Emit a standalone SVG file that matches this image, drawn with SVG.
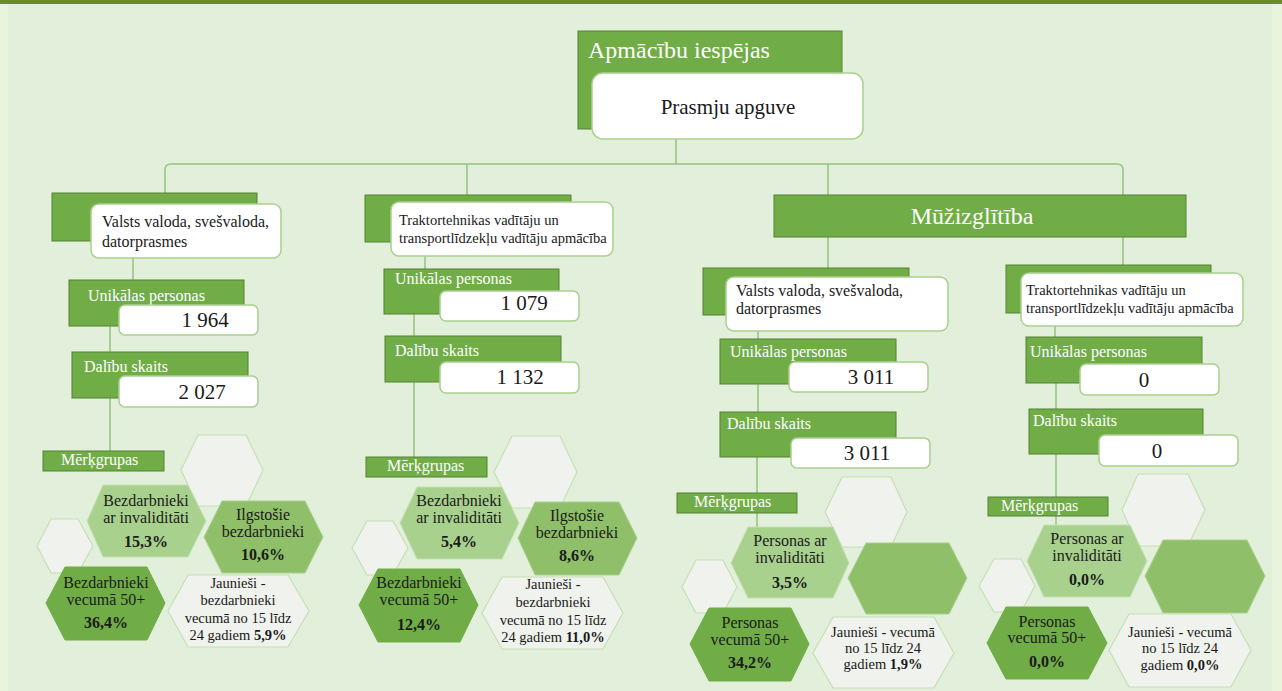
<svg xmlns="http://www.w3.org/2000/svg" width="1282" height="691" viewBox="0 0 1282 691">
<style>
text{font-family:"Liberation Serif","Times New Roman",serif}
.g{fill:#70ad47;stroke:#548235;stroke-width:1}
.w{fill:#ffffff;stroke:#a9d18e;stroke-width:1.5}
.con{fill:none;stroke:#93c47d;stroke-width:1.5}
.wt{fill:#ffffff;font-size:16px}
.bt{fill:#1a1a1a;font-size:16px}
.num{fill:#1a1a1a;font-size:21px;text-anchor:middle}
.hp{fill:#eff2ed;stroke:#c5e0b4;stroke-width:1.2}
.hl{fill:#a9d18e;stroke:#c5e0b4;stroke-width:1}
.hm{fill:#8fbf68;stroke:#a9d18e;stroke-width:1}
.hd{fill:#70ad47;stroke:#70ad47;stroke-width:1}
.ht{fill:#1a1a1a;font-size:16px;text-anchor:middle}
.hs{fill:#1a1a1a;font-size:14.5px;text-anchor:middle}
.b{font-weight:bold}
</style>
<rect x="0" y="0" width="1282" height="691" fill="#eaf4dc"/>
<rect x="8" y="0" width="1264" height="691" fill="#e2efda"/>
<rect x="0" y="0" width="1282" height="4" fill="#6b8a28"/>

<g id="connectors">
<path class="con" d="M676,139 V164"/>
<path class="con" d="M165,193 V170 Q165,164 171,164 H1117 Q1123,164 1123,170 V195"/>
<path class="con" d="M467,164 V195"/>
<path class="con" d="M828,164 V195"/>
<path class="con" d="M828,237 V268"/>
<path class="con" d="M1123,237 V265"/>
<path class="con" d="M133,258 V280"/>
<path class="con" d="M110,326 V352"/>
<path class="con" d="M110,398 V451"/>
<path class="con" d="M425,256 V269"/>
<path class="con" d="M414,314 V336"/>
<path class="con" d="M414,382 V457"/>
<path class="con" d="M758,331 V339"/>
<path class="con" d="M758,384 V412"/>
<path class="con" d="M757,457 V528"/>
<path class="con" d="M1055,326 V337"/>
<path class="con" d="M1056,383 V409"/>
<path class="con" d="M1056,454 V526"/>
</g>

<g id="root">
<rect class="g" x="578" y="31" width="264" height="98"/>
<text class="wt" x="588" y="58" style="font-size:24px">Apmācību iespējas</text>
<rect class="w" x="592" y="73" width="271" height="66" rx="11"/>
<text x="728" y="114" style="font-size:21px;fill:#1a1a1a" text-anchor="middle">Prasmju apguve</text>
</g>

<g id="muzizglitiba">
<rect class="g" x="774" y="195" width="412" height="42"/>
<text class="wt" x="972" y="224" style="font-size:24px" text-anchor="middle">Mūžizglītība</text>
</g>

<!-- Column 1 -->
<g id="c1-head">
<rect class="g" x="52" y="193" width="205" height="48"/>
<rect class="w" x="91" y="204" width="190" height="54" rx="8"/>
<text class="bt" x="102" y="227">Valsts valoda, svešvaloda,</text>
<text class="bt" x="102" y="247">datorprasmes</text>
</g>
<g id="c1-unik">
<rect class="g" x="69" y="280" width="175" height="46"/>
<text class="wt" x="88" y="301">Unikālas personas</text>
<rect class="w" x="119" y="305" width="139" height="30" rx="6"/>
<text class="num" x="205" y="327">1 964</text>
</g>
<g id="c1-dal">
<rect class="g" x="72" y="352" width="176" height="46"/>
<text class="wt" x="84" y="372">Dalību skaits</text>
<rect class="w" x="119" y="376" width="139" height="31" rx="6"/>
<text class="num" x="202" y="399">2 027</text>
</g>
<g id="c1-merk">
<rect class="g" x="43" y="451" width="121" height="20"/>
<text class="wt" x="61" y="465">Mērķgrupas</text>
</g>
<g id="c1-hex-empty1"><polygon class="hp" points="181,470 198,435 246,435 263,470 246,506 198,506"/></g>
<g id="c1-hex-empty2"><polygon class="hp" points="37,546 51,519 78,519 93,546 78,573 51,573"/></g>
<g id="c1-hex-inv">
<polygon class="hl" points="87,521 103,485 188,485 206,521 188,557 103,557"/>
<text class="ht" x="146" y="506">Bezdarbnieki</text>
<text class="ht" x="146" y="523">ar invaliditāti</text>
<text class="ht b" x="146" y="547">15,3%</text>
</g>
<g id="c1-hex-ilg">
<polygon class="hm" points="204,537 222,501 305,501 323,537 305,573 222,573"/>
<text class="ht" x="263" y="520">Ilgstošie</text>
<text class="ht" x="263" y="537">bezdarbnieki</text>
<text class="ht b" x="263" y="560">10,6%</text>
</g>
<g id="c1-hex-50">
<polygon class="hd" points="46,603 65,567 147,567 165,603 147,640 65,640"/>
<text class="ht" x="106" y="588">Bezdarbnieki</text>
<text class="ht" x="106" y="605">vecumā 50+</text>
<text class="ht b" x="106" y="628">36,4%</text>
</g>
<g id="c1-hex-jaun">
<polygon class="hp" points="168,611 188,575 288,575 309,611 288,647 188,647"/>
<text class="hs" x="238" y="588">Jaunieši -</text>
<text class="hs" x="238" y="605">bezdarbnieki</text>
<text class="hs" x="238" y="623">vecumā no 15 līdz</text>
<text class="hs" x="238" y="640">24 gadiem <tspan class="b">5,9%</tspan></text>
</g>

<!-- Column 2 -->
<g id="c2-head">
<rect class="g" x="365" y="195" width="206" height="47"/>
<rect class="w" x="391" y="202" width="222" height="54" rx="8"/>
<text class="bt" x="399" y="225" style="font-size:14.5px">Traktortehnikas vadītāju un</text>
<text class="bt" x="399" y="243" style="font-size:14.5px">transportlīdzekļu vadītāju apmācība</text>
</g>
<g id="c2-unik">
<rect class="g" x="384" y="269" width="175" height="45"/>
<text class="wt" x="395" y="284">Unikālas personas</text>
<rect class="w" x="440" y="291" width="139" height="30" rx="6"/>
<text class="num" x="524" y="310">1 079</text>
</g>
<g id="c2-dal">
<rect class="g" x="385" y="336" width="176" height="46"/>
<text class="wt" x="395" y="356">Dalību skaits</text>
<rect class="w" x="440" y="362" width="139" height="31" rx="6"/>
<text class="num" x="520" y="384">1 132</text>
</g>
<g id="c2-merk">
<rect class="g" x="366" y="457" width="121" height="20"/>
<text class="wt" x="387" y="471">Mērķgrupas</text>
</g>
<g id="c2-hex-empty1"><polygon class="hp" points="494,472 512,436 560,436 577,472 560,508 512,508"/></g>
<g id="c2-hex-empty2"><polygon class="hp" points="352,548 367,521 393,521 408,548 393,575 367,575"/></g>
<g id="c2-hex-inv">
<polygon class="hl" points="400,523 417,487 502,487 519,523 502,559 417,559"/>
<text class="ht" x="459" y="506">Bezdarbnieki</text>
<text class="ht" x="459" y="523">ar invaliditāti</text>
<text class="ht b" x="459" y="547">5,4%</text>
</g>
<g id="c2-hex-ilg">
<polygon class="hm" points="518,538 535,502 619,502 637,538 619,575 535,575"/>
<text class="ht" x="577" y="521">Ilgstošie</text>
<text class="ht" x="577" y="538">bezdarbnieki</text>
<text class="ht b" x="577" y="561">8,6%</text>
</g>
<g id="c2-hex-50">
<polygon class="hd" points="359,605 378,569 460,569 478,605 460,642 378,642"/>
<text class="ht" x="419" y="588">Bezdarbnieki</text>
<text class="ht" x="419" y="605">vecumā 50+</text>
<text class="ht b" x="419" y="630">12,4%</text>
</g>
<g id="c2-hex-jaun">
<polygon class="hp" points="482,613 502,577 603,577 623,613 603,649 502,649"/>
<text class="hs" x="553" y="589">Jaunieši -</text>
<text class="hs" x="553" y="607">bezdarbnieki</text>
<text class="hs" x="553" y="625">vecumā no 15 līdz</text>
<text class="hs" x="553" y="642">24 gadiem <tspan class="b">11,0%</tspan></text>
</g>

<!-- Column 3 -->
<g id="c3-head">
<rect class="g" x="703" y="268" width="206" height="47"/>
<rect class="w" x="726" y="277" width="222" height="54" rx="8"/>
<text class="bt" x="736" y="296">Valsts valoda, svešvaloda,</text>
<text class="bt" x="736" y="314">datorprasmes</text>
</g>
<g id="c3-unik">
<rect class="g" x="720" y="339" width="176" height="45"/>
<text class="wt" x="730" y="357">Unikālas personas</text>
<rect class="w" x="789" y="362" width="139" height="30" rx="6"/>
<text class="num" x="871" y="384">3 011</text>
</g>
<g id="c3-dal">
<rect class="g" x="720" y="412" width="176" height="45"/>
<text class="wt" x="727" y="429">Dalību skaits</text>
<rect class="w" x="791" y="438" width="139" height="30" rx="6"/>
<text class="num" x="867" y="460">3 011</text>
</g>
<g id="c3-merk">
<rect class="g" x="677" y="493" width="120" height="20"/>
<text class="wt" x="694" y="507">Mērķgrupas</text>
</g>
<g id="c3-hex-empty1"><polygon class="hp" points="825,512 842,477 891,477 907,512 891,547 842,547"/></g>
<g id="c3-hex-empty2"><polygon class="hp" points="682,587 696,560 723,560 737,587 723,613 696,613"/></g>
<g id="c3-hex-inv">
<polygon class="hl" points="731,563 748,527 833,527 849,563 833,598 748,598"/>
<text class="ht" x="790" y="546">Personas ar</text>
<text class="ht" x="790" y="563">invaliditāti</text>
<text class="ht b" x="790" y="588">3,5%</text>
</g>
<g id="c3-hex-mid"><polygon class="hm" points="848,578 866,543 949,543 967,578 949,614 866,614"/></g>
<g id="c3-hex-50">
<polygon class="hd" points="690,644 709,608 791,608 809,644 791,681 709,681"/>
<text class="ht" x="750" y="628">Personas</text>
<text class="ht" x="750" y="645">vecumā 50+</text>
<text class="ht b" x="750" y="668">34,2%</text>
</g>
<g id="c3-hex-jaun">
<polygon class="hp" points="813,653 833,617 934,617 954,653 934,688 833,688"/>
<text class="hs" x="883" y="637">Jaunieši - vecumā</text>
<text class="hs" x="883" y="653">no 15 līdz 24</text>
<text class="hs" x="883" y="669">gadiem <tspan class="b">1,9%</tspan></text>
</g>

<!-- Column 4 -->
<g id="c4-head">
<rect class="g" x="1006" y="265" width="205" height="48"/>
<rect class="w" x="1021" y="273" width="222" height="53" rx="8"/>
<text class="bt" x="1026" y="295" style="font-size:14.5px">Traktortehnikas vadītāju un</text>
<text class="bt" x="1026" y="313" style="font-size:14.5px">transportlīdzekļu vadītāju apmācība</text>
</g>
<g id="c4-unik">
<rect class="g" x="1026" y="337" width="176" height="46"/>
<text class="wt" x="1030" y="357">Unikālas personas</text>
<rect class="w" x="1080" y="364" width="139" height="31" rx="6"/>
<text class="num" x="1144" y="387">0</text>
</g>
<g id="c4-dal">
<rect class="g" x="1029" y="409" width="174" height="45"/>
<text class="wt" x="1033" y="426">Dalību skaits</text>
<rect class="w" x="1099" y="435" width="139" height="31" rx="6"/>
<text class="num" x="1157" y="458">0</text>
</g>
<g id="c4-merk">
<rect class="g" x="988" y="497" width="120" height="19"/>
<text class="wt" x="1001" y="511">Mērķgrupas</text>
</g>
<g id="c4-hex-empty1"><polygon class="hp" points="1122,510 1138,474 1188,474 1205,510 1188,546 1138,546"/></g>
<g id="c4-hex-empty2"><polygon class="hp" points="979,586 994,559 1021,559 1035,586 1021,612 994,612"/></g>
<g id="c4-hex-inv">
<polygon class="hl" points="1027,561 1044,525 1130,525 1147,561 1130,597 1044,597"/>
<text class="ht" x="1087" y="544">Personas ar</text>
<text class="ht" x="1087" y="561">invaliditāti</text>
<text class="ht b" x="1087" y="585">0,0%</text>
</g>
<g id="c4-hex-mid"><polygon class="hm" points="1145,576 1163,540 1247,540 1265,576 1247,613 1163,613"/></g>
<g id="c4-hex-50">
<polygon class="hd" points="987,643 1006,607 1088,607 1107,643 1088,679 1006,679"/>
<text class="ht" x="1047" y="627">Personas</text>
<text class="ht" x="1047" y="643">vecumā 50+</text>
<text class="ht b" x="1047" y="667">0,0%</text>
</g>
<g id="c4-hex-jaun">
<polygon class="hp" points="1109,650 1129,614 1231,614 1251,650 1231,687 1129,687"/>
<text class="hs" x="1180" y="637">Jaunieši - vecumā</text>
<text class="hs" x="1180" y="653">no 15 līdz 24</text>
<text class="hs" x="1180" y="670">gadiem <tspan class="b">0,0%</tspan></text>
</g>
</svg>
